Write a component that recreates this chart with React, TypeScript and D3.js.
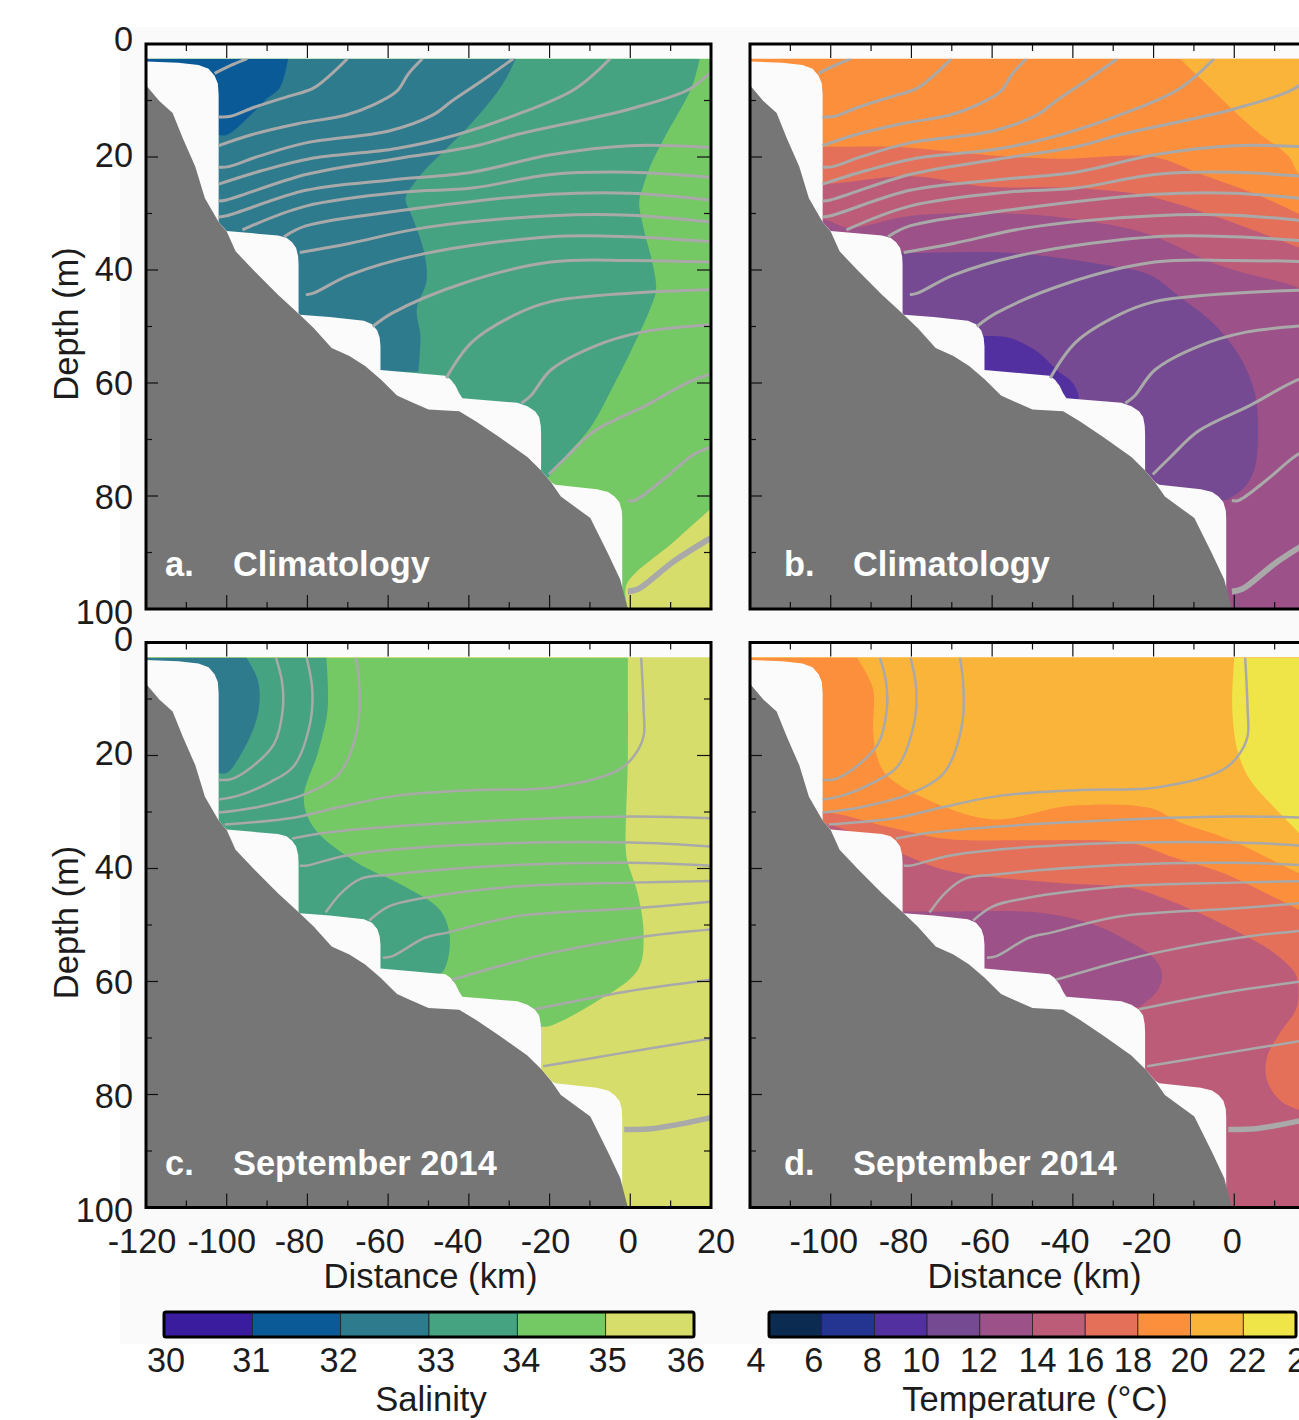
import React from 'react';
import * as d3 from 'd3';

type Pt = [number, number]; // [distance km, depth m]

// seabed and the unsampled steps above it, same in every panel
const seabed: Pt[] = [[-120,7.3],[-116.7,10.1],[-113.4,12.2],[-110.8,16.8],[-107.8,21.7],[-105.4,27.3],[-102,31.5],[-100,33.2],[-97.8,36.7],[-93.1,40.2],[-87.3,44.4],[-81.9,47.9],[-78.4,50.3],[-74,53.8],[-69.6,55.2],[-65.7,57],[-61.8,59.4],[-57.8,62.2],[-54.4,63.3],[-50,64.7],[-42.4,65],[-38.2,66.8],[-32.4,69.6],[-25.5,73.1],[-22.1,75.5],[-19.6,77.6],[-17.2,80.1],[-9.9,83.9],[-5.5,90.2],[-2.5,94.8],[-0.6,100],[-120,100]];
const stepEdge: Pt[] = [[-120,3.1],[-112,3.3],[-107,3.7],[-104.5,4.4],[-103,5.6],[-102.2,7],[-102,9],[-102,31.5],[-100,33.1],[-87.3,33.9],[-85.2,34.3],[-83.8,35.1],[-82.8,36.1],[-82.3,37.6],[-82.2,39],[-82.2,47.6],[-81.9,47.9],[-74.5,48.3],[-66,49],[-64,49.6],[-62.7,50.7],[-62.1,52],[-61.9,53.5],[-61.9,57.7],[-45.8,58.7],[-44.5,59.4],[-43.3,60.5],[-42.4,61.8],[-41.6,62.7],[-28,63.5],[-25.5,64.1],[-23.6,65],[-22.6,66],[-22.2,67.5],[-22.1,69],[-22.1,75.5],[-19.5,77.6],[-18.6,78],[-8.3,78.8],[-5.5,79.3],[-3.9,80.1],[-2.7,81.1],[-2.1,82.6],[-2,84],[-2,100],[-120,100]];

const salinityColors = ['#3a1d9e','#0b5a98','#2f7b8e','#45a381','#75c964','#d7dd6a'];
const tempColors = ['#0c2b50','#243591','#53309f','#764a92','#9c5188','#bd5c78','#e4705a','#fb8f3c','#fbb43a','#efe448'];
const salinityTicks = [30,31,32,33,34,35,36];
const tempTicks = [4,6,8,10,12,14,16,18,20,22,24];

// panel a: salinity bands, climatology
const climSal35: Pt[] = [[20,82.2],[10.8,88.1],[-1,95.8],[-0.5,100],[20,100]];
const climSal34: Pt[] = [[17.2,2.6],[15.2,7.7],[8.3,16.8],[4.9,21.7],[2.9,25.9],[2.2,28],[3.4,32.9],[5.4,38.5],[6.4,43.4],[4.9,46.9],[1,53.1],[-3.9,60.1],[-9.8,67.8],[-15.7,72.7],[-20.1,76.6],[-120,100],[-120,2.6]];
const climSal33: Pt[] = [[-28.4,2.6],[-30.9,6.3],[-34.3,9.8],[-40.2,14.7],[-45.1,18.2],[-51,22.4],[-53.4,24.5],[-55.7,27.3],[-53.9,30.8],[-51,37.1],[-50.5,42],[-52.9,46.9],[-52,51.7],[-52.5,58],[-120,58],[-120,2.6]];
const climSal32: Pt[] = [[-84.8,2.6],[-86.8,7.7],[-90.2,9.8],[-94.1,12.6],[-100,16.1],[-102,16.1],[-120,16],[-120,2.6]];

// panel c: salinity bands, September 2014
const septSal34: Pt[] = [[-0.6,2.7],[-0.6,20.1],[-1.1,36.9],[-0.6,39],[1.9,44.6],[3.3,51.6],[1.9,57.9],[-9.9,64.2],[-20.1,67.9],[-22,68],[-120,68],[-120,2.7]];
const septSal33: Pt[] = [[-75.3,2.7],[-75,11.8],[-77.4,19.5],[-80.9,27.5],[-78.5,32.7],[-67.7,39],[-55.9,43.2],[-47.1,47.4],[-44.7,52.3],[-46.1,57.9],[-48,59],[-120,59],[-120,2.7]];
const septSal32: Pt[] = [[-95.1,2.7],[-92.2,6.9],[-92.2,12.4],[-95.1,18],[-100,23.1],[-102,23.1],[-120,23.1],[-120,2.7]];

// panel b: temperature bands, climatology
const climTemp20: Pt[] = [[-13.5,2.6],[-8.1,6.3],[0,11.9],[5.4,15.4],[13.5,19.9],[16,23],[20,25],[20,2.6]];
const climTemp16: Pt[] = [[-120,18],[-102.1,18.2],[-84.5,18.2],[-62,19.6],[-44,20.3],[-19.8,20],[-8.1,23.1],[5.4,26.6],[16,30.1],[20,31.5],[20,100],[-120,100]];
const climTemp14: Pt[] = [[-120,24.8],[-102,24.8],[-80,23.4],[-62,25.2],[-39.6,25.5],[-21.6,26.9],[-3.6,30.8],[16,36],[20,37],[20,100],[-120,100]];
const climTemp12: Pt[] = [[-120,31],[-102.1,31],[-95.3,32.5],[-80,30.4],[-53,30.1],[-35,31.5],[-21.6,33.6],[-3.6,39.2],[16,43.2],[20,45],[20,100],[-120,100]];
const climTemp10: Pt[] = [[-120,37],[-82.7,37],[-54.8,37],[-30.6,39.3],[-20.9,40.9],[-13.5,44.8],[-5.3,49.4],[1.4,55.4],[5.1,61.8],[5.9,68.3],[5.1,74.9],[2.6,78.4],[-1.8,80.7],[-120,81]];
const climTemp8: Pt[] = [[-62,51.7],[-55.7,52],[-48.5,54.6],[-44,57.7],[-40,60],[-38.6,62.7],[-39.6,63],[-120,63],[-120,51.7]];

// panel d: temperature bands, September 2014
const septTemp22: Pt[] = [[0,2.7],[-0.5,11.8],[0.9,19.4],[3.9,24.3],[9.9,29.2],[16,33.7],[20,37],[20,2.7]];
const septTemp18: Pt[] = [[-93.5,2.7],[-89.5,8.2],[-89.5,15.2],[-88.6,20.1],[-86.3,23.3],[-78.2,27.1],[-60.2,31.3],[-40.5,28.9],[-20.9,29.3],[-13.5,31.8],[-1.1,34.9],[16,40.8],[20,42],[20,100],[-120,100],[-120,2.7]];
const septTemp16: Pt[] = [[-120,30],[-100.7,30.1],[-85.4,32.7],[-71,34.8],[-53,35],[-25.8,35.5],[-15.2,38],[-2.8,40.8],[9.6,45],[16,47.3],[20,49],[20,100],[-120,100]];
const septTemp14: Pt[] = [[-120,32],[-102,32],[-82.7,37.3],[-71,40.4],[-44,42.5],[-25.8,43.4],[-17.7,45.2],[-9.2,47.7],[1.4,51.4],[8.8,54.4],[13.8,57.4],[15.5,59.2],[15.5,64.5],[11.3,69.1],[8.1,73.4],[8.1,77.4],[11.3,81],[16,82.7],[20,83.5],[20,100],[-120,100]];
const septTemp12: Pt[] = [[-67.4,47.6],[-48.5,47.8],[-35,49.9],[-25.8,53],[-20.1,55.7],[-17.9,58.5],[-18.9,61.5],[-23.4,64.5],[-120,64.5],[-120,47.6]];

// density contours, climatology
const climLines: Pt[][] = [
  [[-103,5.2],[-99,3.8],[-94.9,2.6]],
  [[-102,12.9],[-99,12.8],[-93.2,11.2],[-85.3,9.4],[-78.5,7.8],[-74.5,5.6],[-70.1,2.6]],
  [[-102,18],[-94.1,16.1],[-82.4,14.1],[-70.6,12.6],[-63.8,10.8],[-57.9,8.4],[-54.9,5.2],[-51.5,2.6]],
  [[-102,21.8],[-99.5,21.7],[-92.2,19.9],[-80.4,17.5],[-59.8,15.4],[-49,12.6],[-44.2,10.1],[-36.3,6.3],[-29,2.6]],
  [[-102,24.8],[-91.2,22.4],[-79.4,20.3],[-57.9,18.5],[-43.2,16.1],[-28.5,12.6],[-13.8,8],[-5,2.6]],
  [[-102,27.8],[-100,27.6],[-80.4,23.1],[-57.9,20.3],[-39.3,18.2],[-28.5,16.1],[-0.1,11.5],[14.6,8],[20,4.9]],
  [[-102,30.6],[-100,30.4],[-80.4,25.9],[-59.8,24.1],[-39.3,22.7],[-19.7,19.6],[-0.1,18],[20,18.3]],
  [[-96.1,32.9],[-80.4,28.7],[-55.9,26.2],[-39.3,25.5],[-19.7,23.1],[-0.1,22.7],[20,23.6]],
  [[-85.8,34.1],[-80.4,32.2],[-55.9,29.4],[-19.7,26.6],[-0.1,26.4],[20,27.6]],
  [[-81.9,36.9],[-69.6,35.3],[-51,32.5],[-19.7,30.4],[-0.1,30.3],[20,31.5]],
  [[-80.4,44.4],[-78.5,44.1],[-69.6,40.9],[-51,37.1],[-19.7,34.1],[-0.1,34.1],[20,35]],
  [[-63.8,50],[-58.9,47.6],[-41.2,42.3],[-19.7,38.6],[-0.1,38.3],[20,38.6]],
  [[-45.6,59.1],[-39.3,52.8],[-28.5,47.9],[-19.7,45.6],[-0.1,44.1],[20,43.5]],
  [[-27,63.6],[-24.6,62.2],[-19.7,57.7],[-8.9,53.5],[2.9,51],[20,49.7]],
  [[-20.2,76.2],[-15.8,73.1],[-8.9,68.5],[3.8,64],[14.6,59.8],[20,58.4]],
  [[-0.6,80.8],[1,80.8],[7.8,77.3],[15.6,72.7],[20,71.3]],
];
const climThick: Pt[] = [[-0.6,96.9],[1.9,96.5],[10.7,91.6],[20,87.4]];

// density contours, September 2014
const septLines: Pt[][] = [
  [[-102,24.3],[-99,24.2],[-94.1,22.2],[-88.3,18],[-86.1,11.8],[-86.3,6.9],[-87.8,2.7]],
  [[-102,27.8],[-97.1,27.1],[-89.2,24.7],[-83.4,21.9],[-79.4,14.5],[-78.8,8.3],[-80.2,2.7]],
  [[-102,30.1],[-92.2,29.1],[-80.4,26.8],[-72.6,23.6],[-69.6,20.1],[-67.2,13.1],[-67.2,6.9],[-68,2.7]],
  [[-100.5,32.2],[-83.4,31],[-72.6,29.2],[-57.9,27.1],[-38.3,26.1],[-18.7,25.6],[-3,22.6],[0.9,20.1],[3.3,16.6],[3.3,11.8],[2.7,2.7]],
  [[-83.8,34.7],[-74.5,33.6],[-48.1,32.1],[-0.1,30.8],[20,31.1]],
  [[-81.9,39.5],[-80.4,39.5],[-69.6,37.6],[-43.2,35.9],[-0.1,35.4],[20,36.1]],
  [[-75.5,47.8],[-71.6,44.3],[-66.7,41.8],[-59.8,41.1],[-28.5,39.4],[-0.1,39],[20,39.5]],
  [[-64.7,49.2],[-59.8,46.7],[-52,45.3],[-28.5,43.2],[-0.1,42.5],[20,42.2]],
  [[-61.3,55.8],[-58.9,55.5],[-51,52.3],[-45.1,51.3],[-28.5,48.5],[-0.1,47.1],[20,45.9]],
  [[-44.2,59.7],[-28.5,56.5],[-18.7,54.8],[3.8,52],[20,50.8]],
  [[-23.6,64.9],[-1.1,61.8],[20,59.7]],
  [[-21.6,75],[-4,72.9],[20,70.1]],
];
const septThick: Pt[] = [[-1.5,86.2],[5.8,86],[20,84.1]];

const xMajor = [-120,-100,-80,-60,-40,-20,0,20];
const xMinor = [-110,-90,-70,-50,-30,-10,10];
const yMajor = [0,20,40,60,80,100];
const yMinor = [10,30,50,70,90];

const FONT = '"Liberation Sans", Arial, sans-serif';
const INK = '#1c1c1c';
const PANEL_W = 565;
const PANEL_H = 565;

// tail = how many closing corner points at the end of pts stay straight
type Band = { color: string; pts: Pt[]; tail: number };

// label centres do not sit exactly on the ticks in the figure
const xLabelNudgeLeft = [-4,-5,-8,-8,-11,-4,-2,5];
const xLabelNudgeRight = [0,-7,-8,-7,-8,-7,-2,0];
const salLabelNudge = [2,-1,-2,7,4,2,-8];
const tempLabelNudge = [-13,-8,-2,-6,-1,5,0,-5,-1,4,10];

function Panel({ id, left, top, base, bands, lines, thick, lineWidth, thickWidth, letter, title, letterX, titleX, yAxis, xAxis, xNudge }: {
  id: string; left: number; top: number; base: string; bands: Band[]; lines: Pt[][]; thick: Pt[]; lineWidth: number; thickWidth: number;
  letter: string; title: string; letterX: number; titleX: number; yAxis: boolean; xAxis: boolean; xNudge: number[];
}) {
  const x = d3.scaleLinear().domain([-120, 20]).range([left, left + PANEL_W]);
  const y = d3.scaleLinear().domain([0, 100]).range([top, top + PANEL_H]);
  const path = d3.line<Pt>().x(d => x(d[0])).y(d => y(d[1]));
  const smooth = d3.line<Pt>().x(d => x(d[0])).y(d => y(d[1])).curve(d3.curveCatmullRom.alpha(0.5));
  const bandPath = (b: Band) => {
    const edge = b.pts.slice(0, b.pts.length - b.tail);
    const rest = b.pts.slice(b.pts.length - b.tail);
    return smooth(edge) + rest.map(p => `L${x(p[0])},${y(p[1])}`).join('') + 'Z';
  };
  const bottom = y(100);
  return (
    <g>
      <defs>
        <clipPath id={id}>
          <rect x={x(-120)} y={y(2.6)} width={PANEL_W} height={y(100) - y(2.6)} />
        </clipPath>
      </defs>
      <rect x={left} y={top} width={PANEL_W} height={PANEL_H} fill="#fbfbfb" />
      <g clipPath={`url(#${id})`}>
        <rect x={left} y={top} width={PANEL_W} height={PANEL_H} fill={base} />
        {bands.map((b, i) => (
          <path key={i} d={bandPath(b)} fill={b.color} />
        ))}
        <path d={path(stepEdge) + 'Z'} fill="#fbfbfb" />
        <path d={path(seabed) + 'Z'} fill="#767676" />
        {lines.map((l, i) => (
          <path key={i} d={smooth(l) ?? ''} fill="none" stroke="#a9a9a9" strokeWidth={lineWidth} strokeLinejoin="round" />
        ))}
        <path d={smooth(thick) ?? ''} fill="none" stroke="#a9a9a9" strokeWidth={thickWidth} strokeLinejoin="round" />
      </g>

      {xMajor.map(v => (
        <g key={v} stroke="#111" strokeWidth={1.2}>
          <line x1={x(v)} x2={x(v)} y1={top} y2={top + 14} />
          <line x1={x(v)} x2={x(v)} y1={bottom} y2={bottom - 14} />
        </g>
      ))}
      {xMinor.map(v => (
        <g key={v} stroke="#111" strokeWidth={1.2}>
          <line x1={x(v)} x2={x(v)} y1={top} y2={top + 7} />
          <line x1={x(v)} x2={x(v)} y1={bottom} y2={bottom - 7} />
        </g>
      ))}
      {yMajor.map(v => (
        <g key={v} stroke="#111" strokeWidth={1.2}>
          <line x1={left} x2={left + 12} y1={y(v)} y2={y(v)} />
          <line x1={left + PANEL_W} x2={left + PANEL_W - 14} y1={y(v)} y2={y(v)} />
        </g>
      ))}
      {yMinor.map(v => (
        <g key={v} stroke="#111" strokeWidth={1.2}>
          <line x1={left} x2={left + 6} y1={y(v)} y2={y(v)} />
          <line x1={left + PANEL_W} x2={left + PANEL_W - 7} y1={y(v)} y2={y(v)} />
        </g>
      ))}
      <rect x={left} y={top} width={PANEL_W} height={PANEL_H} fill="none" stroke="#000" strokeWidth={3} />

      <text x={letterX} y={top + 532} fontFamily={FONT} fontSize={34.4} fontWeight="bold" fill="#fff">{letter}</text>
      <text x={titleX} y={top + 532} fontFamily={FONT} fontSize={34.4} fontWeight="bold" fill="#fff">{title}</text>

      {yAxis && yMajor.map(v => (
        <text key={v} x={left - 13} y={y(v) + 11.5 + (v - 50) * 0.06 + (v === 0 && top < 100 ? -2 : 0)} textAnchor="end" fontFamily={FONT} fontSize={34.3} fill={INK}>{v}</text>
      ))}
      {yAxis && (
        <text transform={`translate(78,${top + 280}) rotate(-90)`} textAnchor="middle" fontFamily={FONT} fontSize={34.5} fill={INK}>Depth (m)</text>
      )}
      {xAxis && xMajor.map((v, i) => (
        (xNudge[i] !== 0 || v === 0) && (
          <text key={v} x={x(v) + xNudge[i]} y={bottom + 45.5} textAnchor="middle" fontFamily={FONT} fontSize={34.3} fill={INK}>{v}</text>
        )
      ))}
      {xAxis && (
        <text x={left + 284.5} y={bottom + 80} textAnchor="middle" fontFamily={FONT} fontSize={34.7} fill={INK}>Distance (km)</text>
      )}
    </g>
  );
}

function ColorBar({ scale, ticks, colors, nudge, label, labelX }: {
  scale: d3.ScaleLinear<number, number>; ticks: number[]; colors: string[]; nudge: number[]; label: string; labelX: number;
}) {
  const [r0, r1] = scale.range();
  return (
    <g>
      {colors.map((c, i) => (
        <rect key={c} x={scale(ticks[i])} y={1312} width={scale(ticks[i + 1]) - scale(ticks[i])} height={25} fill={c} stroke="#222" strokeWidth={0.8} />
      ))}
      <rect x={r0} y={1312} width={r1 - r0} height={25} rx={2} fill="none" stroke="#000" strokeWidth={3} />
      {ticks.map((t, i) => (
        <text key={t} x={scale(t) + nudge[i]} y={1372} textAnchor="middle" fontFamily={FONT} fontSize={34.3} fill={INK}>{t}</text>
      ))}
      <text x={labelX} y={1411} textAnchor="middle" fontFamily={FONT} fontSize={34.6} fill={INK}>{label}</text>
    </g>
  );
}

export default function App() {
  const salScale = d3.scaleLinear().domain([30, 36]).range([164, 694]);
  const tempScale = d3.scaleLinear().domain([4, 24]).range([769, 1296]);

  const panelA: Band[] = [
    { color: salinityColors[5], pts: climSal35, tail: 1 },
    { color: salinityColors[3], pts: climSal34, tail: 2 },
    { color: salinityColors[2], pts: climSal33, tail: 2 },
    { color: salinityColors[1], pts: climSal32, tail: 2 },
  ];
  const panelC: Band[] = [
    { color: salinityColors[4], pts: septSal34, tail: 2 },
    { color: salinityColors[3], pts: septSal33, tail: 2 },
    { color: salinityColors[2], pts: septSal32, tail: 2 },
  ];
  const panelB: Band[] = [
    { color: tempColors[8], pts: climTemp20, tail: 1 },
    { color: tempColors[6], pts: climTemp16, tail: 2 },
    { color: tempColors[5], pts: climTemp14, tail: 2 },
    { color: tempColors[4], pts: climTemp12, tail: 2 },
    { color: tempColors[3], pts: climTemp10, tail: 1 },
    { color: tempColors[2], pts: climTemp8, tail: 2 },
  ];
  const panelD: Band[] = [
    { color: tempColors[9], pts: septTemp22, tail: 1 },
    { color: tempColors[7], pts: septTemp18, tail: 3 },
    { color: tempColors[6], pts: septTemp16, tail: 2 },
    { color: tempColors[5], pts: septTemp14, tail: 2 },
    { color: tempColors[4], pts: septTemp12, tail: 2 },
  ];

  return (
    <svg width={1299} height={1420} style={{ position: 'absolute', left: 0, top: 0, display: 'block' }}>
      <rect width={1299} height={1420} fill="#fff" />
      <rect x={120} y={27} width={1179} height={1317} fill="#fafafa" />
      <Panel id="pa" left={146} top={44} base={salinityColors[4]} bands={panelA} lines={climLines} thick={climThick} lineWidth={3} thickWidth={5.8}
        letter="a." title="Climatology" letterX={165} titleX={233} yAxis xAxis={false} xNudge={xLabelNudgeLeft} />
      <Panel id="pb" left={750} top={44} base={tempColors[7]} bands={panelB} lines={climLines} thick={climThick} lineWidth={3} thickWidth={5.8}
        letter="b." title="Climatology" letterX={784} titleX={853} yAxis={false} xAxis={false} xNudge={xLabelNudgeRight} />
      <Panel id="pc" left={146} top={642.5} base={salinityColors[5]} bands={panelC} lines={septLines} thick={septThick} lineWidth={2.5} thickWidth={5.5}
        letter="c." title="September 2014" letterX={165} titleX={233} yAxis xAxis xNudge={xLabelNudgeLeft} />
      <Panel id="pd" left={750} top={642.5} base={tempColors[8]} bands={panelD} lines={septLines} thick={septThick} lineWidth={2.5} thickWidth={5.5}
        letter="d." title="September 2014" letterX={784} titleX={853} yAxis={false} xAxis xNudge={xLabelNudgeRight} />
      <ColorBar scale={salScale} ticks={salinityTicks} colors={salinityColors} nudge={salLabelNudge} label="Salinity" labelX={431} />
      <ColorBar scale={tempScale} ticks={tempTicks} colors={tempColors} nudge={tempLabelNudge} label="Temperature (°C)" labelX={1035} />
    </svg>
  );
}
